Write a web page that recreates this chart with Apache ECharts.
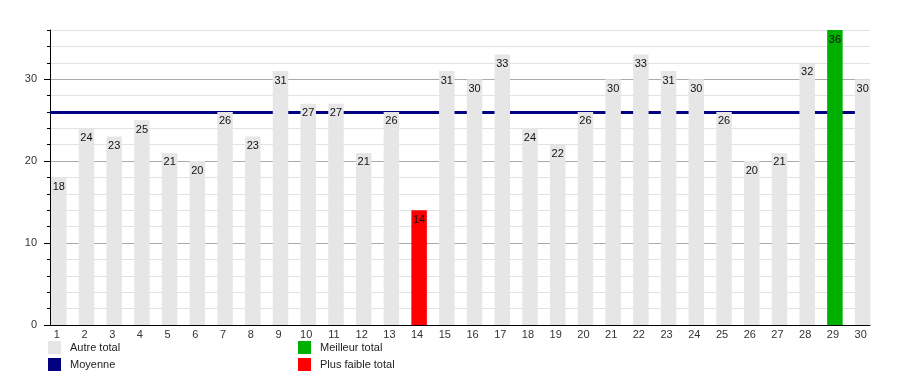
<!DOCTYPE html>
<html>
<head>
<meta charset="utf-8">
<script src="https://cdn.jsdelivr.net/npm/echarts@6/dist/echarts.min.js"></script>
<style>html,body{margin:0;padding:0;background:#fff}#c{width:900px;height:375px}</style>
</head>
<body>
<div id="c"></div>
<script>
const categories = [1,2,3,4,5,6,7,8,9,10,11,12,13,14,15,16,17,18,19,20,21,22,23,24,25,26,27,28,29,30];
const totals = [18,24,23,25,21,20,26,23,31,27,27,21,26,14,31,30,33,24,22,26,30,33,31,30,26,20,21,32,36,30];
const moyenne = 26;
const yTickLabels = [0,10,20,30];
const yMajorTicks = [0,10,20,30];

const maxVal = Math.max(...totals);
const minVal = Math.min(...totals);
const autre = [], best = [], worst = [];
categories.forEach((c, i) => {
  const v = totals[i];
  if (v === maxVal) best.push([c, v]);
  else if (v === minVal) worst.push([c, v]);
  else autre.push([c, v]);
});

const chart = echarts.init(document.getElementById('c'), null, {renderer: 'canvas'});
const font = 'Liberation Sans, Arial, sans-serif';
const barLabel = {show: true, position: 'insideTop', distance: 4, color: '#111', fontSize: 11, fontFamily: font};
const xMin = 0.684, xMax = 30.266;
const legendCommon = {top: 341, orient: 'vertical', padding: 0, height: 34, itemWidth: 13, itemHeight: 13, itemGap: 4, icon: 'rect',
  textStyle: {fontSize: 11, color: '#222', padding: [0,0,0,4]}, selectedMode: false};

chart.setOption({
  animation: false,
  textStyle: {fontFamily: font},
  grid: {left: 50, right: 30, top: 30, bottom: 50, containLabel: false},
  legend: [
    Object.assign({left: 48, data: ['Autre total', 'Moyenne']}, legendCommon),
    Object.assign({left: 298, data: ['Meilleur total', 'Plus faible total']}, legendCommon)
  ],
  xAxis: {
    type: 'value', min: xMin, max: xMax,
    axisLine: {show: true, lineStyle: {color: '#000', width: 1}},
    axisTick: {show: false},
    splitLine: {show: false},
    axisLabel: {customValues: categories, color: '#333', fontSize: 11, margin: 4, padding: [0,4,0,0],
                showMinLabel: true, showMaxLabel: true}
  },
  yAxis: [
    {
      type: 'value', min: 0, max: 36, interval: 2, position: 'left',
      axisLine: {show: true, lineStyle: {color: '#000', width: 1}},
      axisTick: {show: true, length: 3, lineStyle: {color: '#000'}},
      axisLabel: {color: '#333', fontSize: 11, margin: 13,
                  formatter: v => (yTickLabels.indexOf(v) >= 0 ? String(v) : '')},
      splitLine: {show: true, lineStyle: {color: ['#aaaaaa','#e2e2e2','#e2e2e2','#e2e2e2','#e2e2e2'], width: 1}}
    },
    {
      type: 'value', min: 0, max: 36, interval: 2, position: 'left', offset: 0,
      axisLine: {show: false},
      axisTick: {show: true, length: 6, customValues: yMajorTicks, lineStyle: {color: '#000'}},
      axisLabel: {show: false},
      splitLine: {show: false}
    }
  ],
  series: [
    {name: 'Moyenne', type: 'line', data: [], z: 1, itemStyle: {color: '#000080'}, lineStyle: {color: '#000080'},
     markLine: {silent: true, symbol: 'none', z: 1, label: {show: false},
                lineStyle: {color: '#000080', width: 3, type: 'solid'},
                data: [{yAxis: moyenne}]}},
    {name: 'Autre total', type: 'bar', data: autre, barWidth: 15.5, z: 3,
     itemStyle: {color: '#e6e6e6'}, label: barLabel},
    {name: 'Meilleur total', type: 'bar', data: best, barWidth: 15.5, barGap: '-100%', z: 3,
     itemStyle: {color: '#00b000'}, label: barLabel},
    {name: 'Plus faible total', type: 'bar', data: worst, barWidth: 15.5, barGap: '-100%', z: 3,
     itemStyle: {color: '#ff0000'}, label: barLabel}
  ]
});
</script>
</body>
</html>
